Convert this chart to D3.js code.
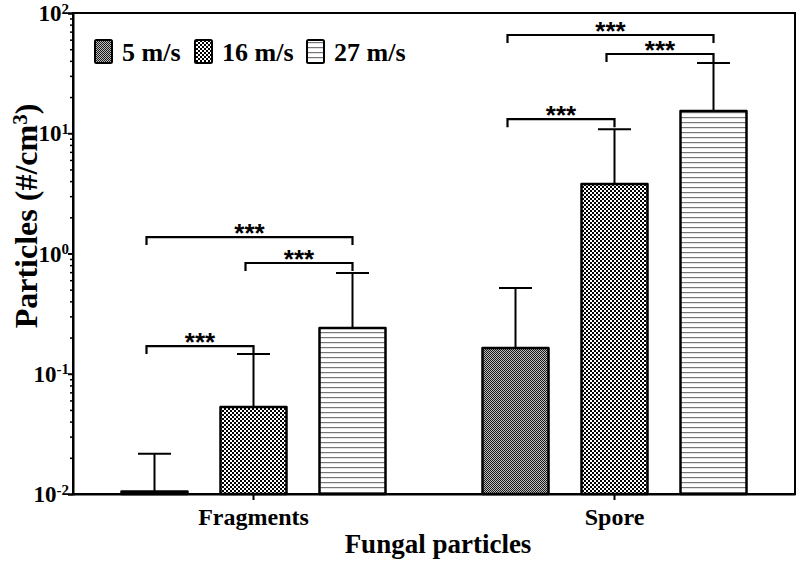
<!DOCTYPE html>
<html><head><meta charset="utf-8">
<script src="https://cdn.jsdelivr.net/npm/d3@7"></script>
<style>body{margin:0;background:#fff}svg{display:block}</style>
</head><body><svg id="c" width="800" height="566"></svg>
<script>
const categories = ["Fragments", "Spore"];
const seriesNames = ["5 m/s", "16 m/s", "27 m/s"];
const mean5 = [0.0105, 0.164];
const mean16 = [0.0529, 3.78];
const mean27 = [0.240, 15.3];
const err5 = [0.0216, 0.517];
const err16 = [0.146, 10.8];
const err27 = [0.689, 38.4];
const yTickValues = [0.01, 0.1, 1, 10, 100];
const yTickExponents = ["-2", "-1", "0", "1", "2"];
const sigCategory = [0, 0, 0, 1, 1, 1];
const sigFrom = [0, 1, 0, 0, 1, 0];
const sigTo = [1, 2, 2, 1, 2, 2];
const sigLevel = [0.170, 0.834, 1.37, 13.1, 45.6, 65.6];
const sigText = ["***", "***", "***", "***", "***", "***"];

const means = [mean5, mean16, mean27];
const errs = [err5, err16, err27];

const W = 800, H = 566;
const m = {l: 73, t: 13, r: 5, b: 72};
const svg = d3.select("#c");
const serif = "'Liberation Serif','Times New Roman',serif";

const defs = svg.append("defs");
const p1 = defs.append("pattern").attr("id", "p0").attr("patternUnits", "userSpaceOnUse").attr("width", 2).attr("height", 2);
p1.append("rect").attr("width", 2).attr("height", 2).attr("fill", "#bdbdbd");
p1.append("rect").attr("width", 1).attr("height", 1).attr("fill", "#1a1a1a");
p1.append("rect").attr("x", 1).attr("y", 1).attr("width", 1).attr("height", 1).attr("fill", "#1a1a1a");
const p2 = defs.append("pattern").attr("id", "p1").attr("patternUnits", "userSpaceOnUse").attr("width", 4).attr("height", 4);
p2.append("rect").attr("width", 4).attr("height", 4).attr("fill", "#fff");
p2.append("rect").attr("width", 2).attr("height", 2).attr("fill", "#000");
p2.append("rect").attr("x", 2).attr("y", 2).attr("width", 2).attr("height", 2).attr("fill", "#000");
const p3 = defs.append("pattern").attr("id", "p2").attr("patternUnits", "userSpaceOnUse").attr("width", 5).attr("height", 5);
p3.append("rect").attr("width", 5).attr("height", 5).attr("fill", "#fff");
p3.append("rect").attr("y", 2).attr("width", 5).attr("height", 1.2).attr("fill", "#777");

const x0 = d3.scaleBand().domain(categories).range([m.l, W - m.r]);
const x1 = d3.scaleBand().domain(seriesNames).range([-148.5, 148.5]).paddingInner(1/3).paddingOuter(1/6);
const y = d3.scaleLog().domain([0.01, 100]).range([H - m.b, m.t]);
const cx = (ci, si) => x0(categories[ci]) + x0.bandwidth() / 2 + x1(seriesNames[si]);

seriesNames.forEach((s, si) => {
  categories.forEach((c, ci) => {
    const bx = cx(ci, si);
    const v = means[si][ci];
    svg.append("rect")
      .attr("x", bx).attr("width", x1.bandwidth())
      .attr("y", y(v)).attr("height", y(0.01) - y(v))
      .attr("fill", `url(#p${si})`).attr("stroke", "#000").attr("stroke-width", 2.5)
      .attr("stroke-linejoin", "round");
    const mid = bx + x1.bandwidth() / 2;
    const e = errs[si][ci];
    svg.append("line").attr("x1", mid).attr("x2", mid).attr("y1", y(v)).attr("y2", y(e))
      .attr("stroke", "#000").attr("stroke-width", 2);
    svg.append("line").attr("x1", mid - 16.5).attr("x2", mid + 16.5).attr("y1", y(e)).attr("y2", y(e))
      .attr("stroke", "#000").attr("stroke-width", 2);
  });
});

svg.append("rect").attr("x", m.l).attr("y", m.t).attr("width", W - m.r - m.l).attr("height", H - m.b - m.t)
  .attr("fill", "none").attr("stroke", "#000").attr("stroke-width", 2);

const minor = [];
for (let k = -2; k < 2; k++) for (let d = 2; d <= 9; d++) minor.push(d * Math.pow(10, k));
const gMinor = svg.append("g").attr("transform", `translate(${m.l},0)`)
  .call(d3.axisLeft(y).tickValues(minor).tickSize(3).tickFormat(""));
gMinor.select(".domain").remove();
gMinor.selectAll("line").attr("stroke-width", 1.5);
const gy = svg.append("g").attr("transform", `translate(${m.l},0)`)
  .call(d3.axisLeft(y).tickValues(yTickValues).tickSize(5).tickFormat(""));
gy.select(".domain").attr("stroke-width", 2);
gy.selectAll("line").attr("stroke-width", 2);
gy.selectAll(".tick").each(function(d, i) {
  const t = d3.select(this).append("text").attr("x", -4).attr("dy", "0.33em")
    .attr("text-anchor", "end").attr("fill", "#000")
    .style("font-family", serif).style("font-weight", "bold").style("font-size", "23px");
  t.append("tspan").text("10");
  t.append("tspan").attr("dy", "-0.5em").style("font-size", "15px").text(yTickExponents[i]);
});

const gx = svg.append("g").attr("transform", `translate(0,${H - m.b})`)
  .call(d3.axisBottom(x0).tickSize(6).tickSizeOuter(0).tickPadding(8));
gx.select(".domain").attr("stroke-width", 2);
gx.selectAll("line").attr("stroke-width", 2);
gx.selectAll("text").attr("fill", "#000").style("font-family", serif).style("font-weight", "bold").style("font-size", "24px");

svg.append("text").attr("x", 438).attr("y", 553).attr("text-anchor", "middle")
  .style("font-family", serif).style("font-weight", "bold").style("font-size", "27px").text("Fungal particles");
const yt = svg.append("text").attr("transform", "translate(37,216) rotate(-90)").attr("text-anchor", "middle")
  .style("font-family", serif).style("font-weight", "bold").style("font-size", "32px");
yt.append("tspan").text("Particles (#/cm");
yt.append("tspan").attr("dy", "-0.5em").style("font-size", "21px").text("3");
yt.append("tspan").attr("dy", "0.33em").text(")");

sigCategory.forEach((ci, i) => {
  const xa = cx(ci, sigFrom[i]) + x1.bandwidth() / 2 - 8;
  const xb = cx(ci, sigTo[i]) + x1.bandwidth() / 2;
  const yy = y(sigLevel[i]);
  svg.append("path").attr("d", `M${xa},${yy + 8}V${yy}H${xb}V${yy + 8}`)
    .attr("fill", "none").attr("stroke", "#000").attr("stroke-width", 2.2);
  svg.append("text").attr("x", (xa + xb) / 2).attr("y", yy + 5).attr("text-anchor", "middle")
    .style("font-family", "'Liberation Sans',Arial,sans-serif").style("font-weight", "bold").style("font-size", "26px")
    .text(sigText[i]);
});

const legX = [95, 195, 307];
seriesNames.forEach((s, si) => {
  svg.append("rect").attr("x", legX[si]).attr("y", 40).attr("width", 17).attr("height", 23).attr("rx", 1.5)
    .attr("fill", `url(#p${si})`).attr("stroke", "#000").attr("stroke-width", 2);
  svg.append("text").attr("x", legX[si] + 27).attr("y", 61)
    .style("font-family", serif).style("font-weight", "bold").style("font-size", "26px").text(s);
});
</script></body></html>
